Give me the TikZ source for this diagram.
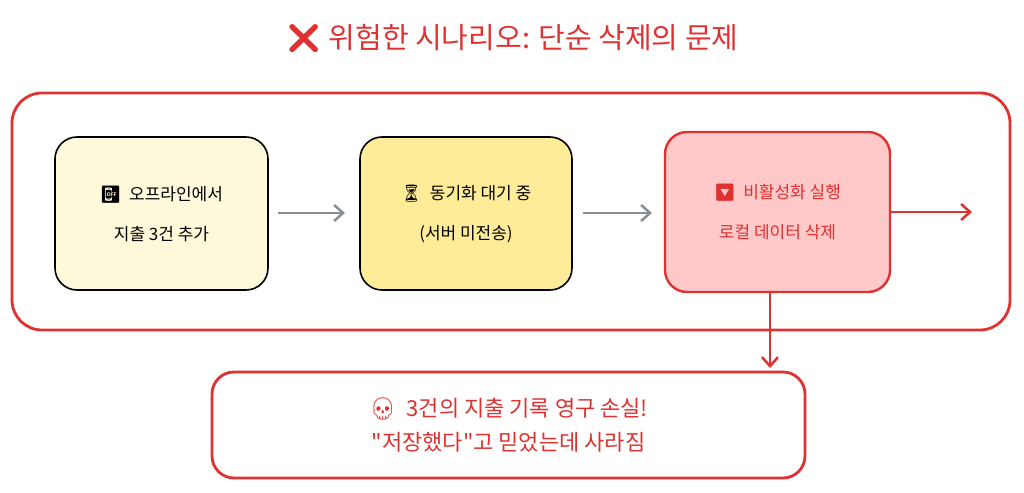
\documentclass[tikz,border=0pt]{standalone}
\usepackage{fontspec}
\newfontfamily\kr{Noto Sans CJK KR}
\newfontfamily\emo{Noto Emoji}
\usetikzlibrary{arrows.meta}
\definecolor{rd}{HTML}{E03131}
\definecolor{gr}{HTML}{868E96}
\definecolor{y1}{HTML}{FFF9DB}
\definecolor{y2}{HTML}{FFEC99}
\definecolor{r1}{HTML}{FFC9C9}
\tikzset{
 box/.style={draw=black,line width=1.6pt,rounded corners=22pt,align=center,font=\kr\fontsize{17}{40}\selectfont},
 arr/.style={-{Straight Barb[length=9pt,width=16pt]},line width=2.5pt},
}
\begin{document}
\begin{tikzpicture}[x=1pt,y=-1pt]
\useasboundingbox (0,0) rectangle (1024,492);
\node[text=rd,font=\kr\fontsize{29}{30}\selectfont] (t) at (512,38) {{\emo ❌}\ 위험한 시나리오: 단순 삭제의 문제};
\draw[rd,line width=2.8pt,rounded corners=30pt] (12,93) rectangle (1010,330);
\node[box,fill=y1,minimum width=213pt,minimum height=153pt] (a) at (161.5,213.5) {{\emo 📴}\ \ 오프라인에서\\지출 3건 추가};
\node[box,fill=y2,minimum width=212pt,minimum height=153pt] (b) at (466,213.5) {{\emo ⏳}\ \ 동기화 대기 중\\(서버 미전송)};
\node[box,draw=rd,line width=2.4pt,text=rd,fill=r1,minimum width=225pt,minimum height=160pt] (c) at (777.5,212) {{\emo 🔽}\ \ 비활성화 실행\\로컬 데이터 삭제};
\node[box,draw=rd,line width=2.8pt,text=rd,fill=white,minimum width=593pt,minimum height=106pt,font=\kr\fontsize{22}{34}\selectfont] (d) at (508.5,425) {{\emo 💀}\ \ 3건의 지출 기록 영구 손실!\\"저장했다"고 믿었는데 사라짐};
\coordinate (e) at (972,212);
\draw[arr,gr] (278,213) -- (345,213);
\draw[arr,gr] (583,213) -- (652,213);
\draw[arr,rd] (c.east) -- (e);
\draw[arr,rd] (770,292) -- (770,368);
\end{tikzpicture}
\end{document}
